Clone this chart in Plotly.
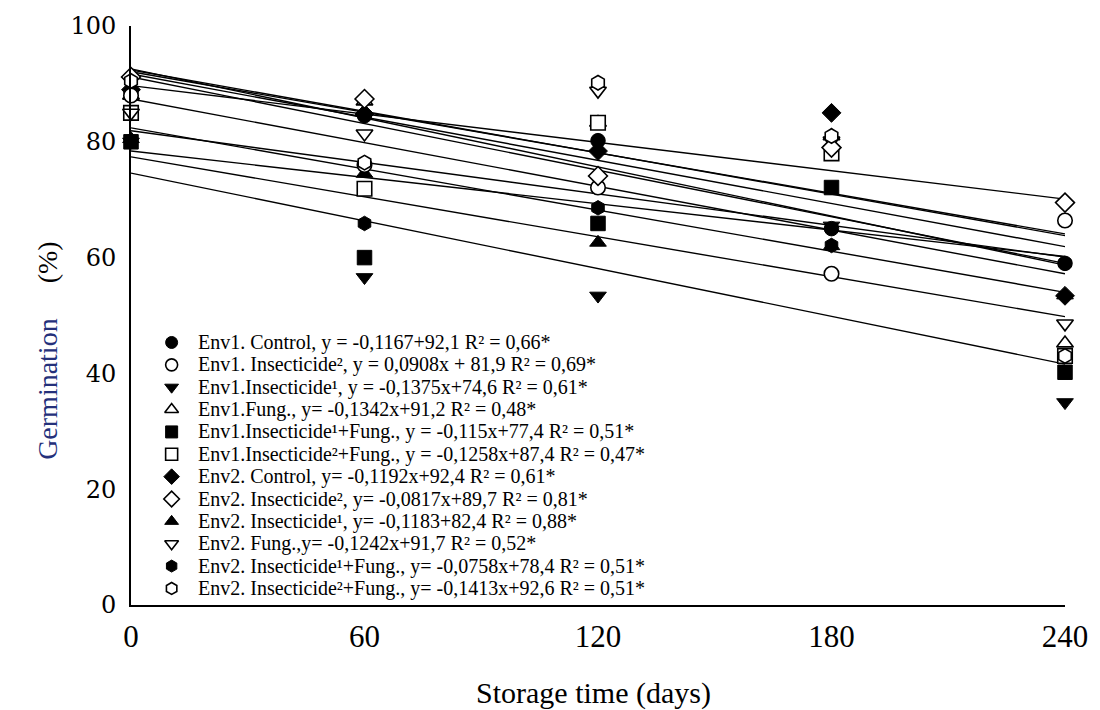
import plotly.graph_objects as go

# ---------------- data ----------------
days = [0, 60, 120, 180, 240]

env1_control = [88.5, 84.5, 80.2, 65.0, 59.0]
env1_ins2 = [88.0, 76.0, 72.1, 57.2, 66.4]
env1_ins1 = [80.0, 56.6, 53.4, 65.5, 35.0]
env1_fung = [88.0, 87.0, 83.3, 81.0, 45.2]
env1_ins1_fung = [80.0, 60.0, 65.9, 72.1, 40.2]
env1_ins2_fung = [85.0, 71.9, 83.3, 78.0, 43.0]
env2_control = [89.0, 84.8, 78.4, 85.0, 53.4]
env2_ins2 = [91.2, 87.4, 74.1, 79.0, 69.5]
env2_ins1 = [80.5, 74.5, 62.6, 62.0, 53.5]
env2_fung = [85.0, 81.4, 88.8, 80.2, 48.6]
env2_ins1_fung = [80.0, 65.9, 68.6, 62.1, 59.0]
env2_ins2_fung = [90.5, 76.4, 90.2, 81.0, 43.0]

# fitted lines: value at day 0 and at day 240
line_start = [92.1, 81.9, 74.6, 91.2, 77.4, 87.4, 92.4, 89.7, 82.4, 91.7, 78.4, 92.6]
line_end = [64.1, 60.1, 41.6, 59.0, 49.8, 57.2, 63.8, 70.1, 54.0, 61.9, 60.2, 58.7]

labels = [
    "Env1. Control, y = -0,1167+92,1 R² = 0,66*",
    "Env1. Insecticide², y = 0,0908x + 81,9 R² = 0,69*",
    "Env1.Insecticide¹, y = -0,1375x+74,6 R² = 0,61*",
    "Env1.Fung., y= -0,1342x+91,2 R² = 0,48*",
    "Env1.Insecticide¹+Fung., y = -0,115x+77,4 R² = 0,51*",
    "Env1.Insecticide²+Fung., y = -0,1258x+87,4 R² = 0,47*",
    "Env2. Control, y= -0,1192x+92,4 R² = 0,61*",
    "Env2. Insecticide², y= -0,0817x+89,7 R² = 0,81*",
    "Env2. Insecticide¹, y= -0,1183+82,4 R² = 0,88*",
    "Env2. Fung.,y= -0,1242x+91,7 R² = 0,52*",
    "Env2. Insecticide¹+Fung., y= -0,0758x+78,4 R² = 0,51*",
    "Env2. Insecticide²+Fung., y= -0,1413x+92,6 R² = 0,51*",
]

series = [env1_control, env1_ins2, env1_ins1, env1_fung, env1_ins1_fung, env1_ins2_fung,
          env2_control, env2_ins2, env2_ins1, env2_fung, env2_ins1_fung, env2_ins2_fung]

# ---------------- styles ----------------
symbols = ["circle", "circle", "triangle-down", "triangle-up", "square", "square",
           "diamond", "diamond", "triangle-up", "triangle-down", "hexagon", "hexagon"]
filled = [True, False, True, False, True, False, True, False, True, False, True, False]
draw_order = [4, 2, 8, 0, 10, 6, 3, 5, 1, 9, 7, 11]

fig = go.Figure()

# regression lines
for i in range(len(series)):
    fig.add_trace(go.Scatter(
        x=[days[0], days[-1]], y=[line_start[i], line_end[i]], mode="lines",
        line=dict(color="black", width=1.4), showlegend=False, hoverinfo="skip"))

def mk(i, size):
    if filled[i]:
        return dict(symbol=symbols[i], size=size, color="black",
                    line=dict(color="black", width=1))
    return dict(symbol=symbols[i], size=size, color="white",
                line=dict(color="black", width=1.6))

for i in draw_order:
    fig.add_trace(go.Scatter(
        x=days, y=series[i], mode="markers", marker=mk(i, 14.5),
        name=labels[i], showlegend=False, cliponaxis=False))

# custom legend (overlay axis in [0,1] plot-fraction units)
LEG_SYM_X = 0.0435
LEG_TXT_X = 0.0700
LEG_Y0 = 0.4534
LEG_DY = 0.03862
for i in range(len(series)):
    yy = LEG_Y0 - i * LEG_DY
    fig.add_trace(go.Scatter(
        x=[LEG_SYM_X], y=[yy], xaxis="x2", yaxis="y2", mode="markers",
        marker=mk(i, 12), showlegend=False, hoverinfo="skip", cliponaxis=False))
    fig.add_annotation(x=LEG_TXT_X, y=yy, xref="paper", yref="paper", text=labels[i],
                       showarrow=False, xanchor="left", yanchor="middle",
                       font=dict(family="Liberation Serif", size=20, color="black"))

# axis titles
fig.add_annotation(x=-0.108, y=0.44, xref="paper", yref="paper",
                   text="<span style='color:#24307a'>Germination</span>"
                        "\u00a0\u00a0\u00a0\u00a0\u00a0(%)",
                   textangle=-90, showarrow=False,
                   font=dict(family="Liberation Serif", size=28, color="black"))
fig.add_annotation(x=0.495, y=-0.152, xref="paper", yref="paper",
                   text="Storage time (days)", showarrow=False, yanchor="middle",
                   font=dict(family="Liberation Serif", size=30, color="black"))

fig.update_layout(
    width=1100, height=710,
    margin=dict(l=131, r=27, t=25, b=105),
    paper_bgcolor="white", plot_bgcolor="white",
    showlegend=False,
    xaxis=dict(range=[0, 240], tickvals=days, ticktext=[str(d) for d in days],
               showline=True, linecolor="black", linewidth=2, showgrid=False,
               zeroline=False, ticks="", ticklabelstandoff=3,
               tickfont=dict(family="Liberation Serif", size=31, color="black")),
    yaxis=dict(range=[0, 100], tickvals=[0, 20, 40, 60, 80, 100],
               showline=True, linecolor="black", linewidth=2, showgrid=False,
               zeroline=False, ticks="", ticklabelstandoff=8,
               tickfont=dict(family="DejaVu Serif", size=24, color="black")),
    xaxis2=dict(overlaying="x", range=[0, 1], visible=False),
    yaxis2=dict(overlaying="y", range=[0, 1], visible=False),
)

fig.write_html("out.html")
